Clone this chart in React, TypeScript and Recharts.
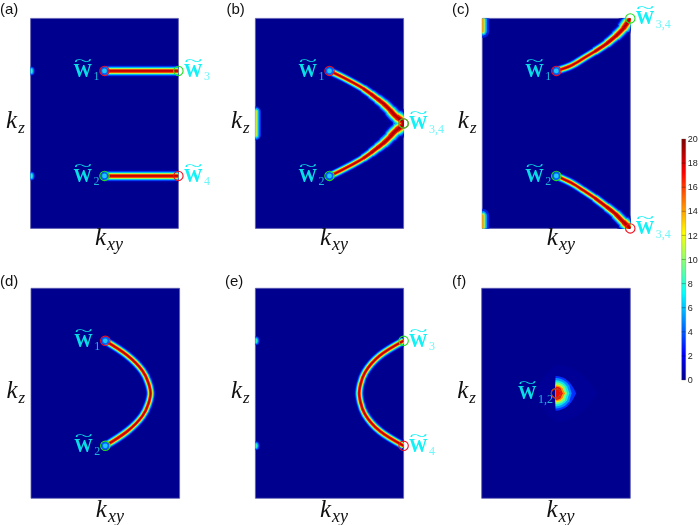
import React from "react";
import { ComposedChart, BarChart, Bar, Line, Area, XAxis, YAxis, ReferenceArea, ReferenceDot, ReferenceLine } from "recharts";

type P = { x: number; y: number };
const pts = (a: number[][]): P[] => a.map(([x, y]) => ({ x, y }));
// takes a curve's outer part away on both ends, keeping the centre
const mirror = (half: number[][], from: number) => {
  const h = half.slice(from);
  return [...h, ...h.slice(0, -1).reverse().map(([x, y]) => [x, -y])];
};

// ---- curves: [kxy 0..1, kz -1..1]
const A_UP = [[0.5, 0.5], [1, 0.5]];
const A_DOWN = [[0.5, -0.5], [1, -0.5]];
const B_HALF = [[0.5, 0.5], [0.565, 0.457], [0.63, 0.41], [0.68, 0.372], [0.728, 0.332], [0.78, 0.28], [0.823, 0.233], [0.863, 0.189], [0.91, 0.125], [0.953, 0.062], [1, 0]];
const C_UP = [[0.5, 0.5], [0.6, 0.55], [0.682, 0.618], [0.76, 0.685], [0.84, 0.76], [0.9, 0.83], [0.953, 0.905], [1, 1]];
const C_DOWN = [[0.5, -0.5], [0.6, -0.565], [0.682, -0.637], [0.76, -0.71], [0.84, -0.795], [0.9, -0.862], [0.953, -0.938], [1, -1]];
const D_CURVE = [[0.5, 0.5], [0.645, 0.365], [0.75, 0.215], [0.79, 0.1], [0.805, 0], [0.79, -0.1], [0.75, -0.215], [0.645, -0.365], [0.5, -0.5]];
const E_CURVE = [[1, 0.5], [0.84, 0.36], [0.74, 0.2], [0.71, 0.09], [0.7, 0], [0.71, -0.09], [0.74, -0.2], [0.84, -0.36], [1, -0.5]];
const EDGE_DOT_UP = [[0, 0.495], [0, 0.505]];
const EDGE_DOT_DOWN = [[0, -0.505], [0, -0.495]];
const B_EDGE = [[0, 0.11], [0, -0.11]];
const C_EDGE_UP = [[0, 1.02], [0, 0.88]];
const C_EDGE_DOWN = [[0, -0.88], [0, -1.02]];

// thickness of the glow along the curves: [first point index, width factor]
const B_SCALES = [[0, 0.85], [4, 0.95], [5, 1.05], [6, 1.15], [7, 1.25], [8, 1.4], [9, 1.6]];
const C_SCALES = [[0, 0.85], [3, 0.95], [4, 1.05], [5, 1.2], [6, 1.45]];

// ---- the central spot of panel (f): half heights per kxy
const BLOB_X = [0.38, 0.44, 0.497, 0.5, 0.515, 0.53, 0.545, 0.56, 0.575, 0.59, 0.605, 0.62, 0.635, 0.7, 0.78];
const BLOB_HALO = [0.08, 0.2, 0.27, 0.27, 0.27, 0.268, 0.265, 0.26, 0.255, 0.25, 0.24, 0.23, 0.22, 0.15, 0.0];
const BLOB_BLUE = [null, null, 0.165, 0.165, 0.163, 0.158, 0.15, 0.14, 0.125, 0.105, 0.08, 0.045, 0, null, null];
const BLOB_SKY = [null, null, 0.145, 0.145, 0.143, 0.138, 0.13, 0.118, 0.1, 0.075, 0, null, null, null, null];
const BLOB_CYAN = [null, null, 0.125, 0.125, 0.122, 0.115, 0.105, 0.09, 0.065, 0, null, null, null, null, null];
const BLOB_GREEN = [null, null, 0.105, 0.105, 0.102, 0.095, 0.085, 0.065, 0, null, null, null, null, null, null];
const BLOB_YELLOW = [null, null, 0.085, 0.085, 0.082, 0.075, 0.055, 0, null, null, null, null, null, null, null];
const BLOB_ORANGE = [null, null, 0.075, 0.075, 0.072, 0.065, 0.045, 0, null, null, null, null, null, null, null];
const BLOB_RED = [null, null, 0.063, 0.063, 0.06, 0.05, 0, null, null, null, null, null, null, null, null];
const BLOB_COLORS = ["#000096", "#0030ff", "#0090ff", "#10e8e8", "#70ff80", "#f8e810", "#ff9000", "#f01000"];
const blobLayers = [BLOB_HALO, BLOB_BLUE, BLOB_SKY, BLOB_CYAN, BLOB_GREEN, BLOB_YELLOW, BLOB_ORANGE, BLOB_RED];
const blobRows = BLOB_X.map((x, i) => {
  const r: any = { x };
  blobLayers.forEach((l, k) => { const h = l[i]; r["l" + k] = h == null ? null : [-h, h]; });
  return r;
});

// ---- colour bar
const CBAR_TICKS = [0, 2, 4, 6, 8, 10, 12, 14, 16, 18, 20];
const CBAR_DATA = [{ name: "I", range: [0, 20] }];
const JET_STOPS: [number, string][] = [[0, "#00008f"], [0.11, "#0000ff"], [0.36, "#00ffff"], [0.61, "#ffff00"], [0.86, "#ff0000"], [1, "#800000"]];

// ---- stacked stroke layers that imitate the jet glow
const LAYERS: [number, string][] = [[13, "#00009e"], [10.5, "#0014e0"], [9, "#0070ff"], [7.5, "#00d8f0"], [6, "#60ff90"], [5, "#e8f020"], [4, "#ff9000"], [3, "#f01000"], [1.3, "#b00000"]];
const EDGE_LAYERS: [number, string][] = [[11, "#0030f0"], [8, "#00a0ff"], [5.5, "#30f0c0"], [3.5, "#c0f040"]];
const DOT_LAYERS: [number, string][] = [[8, "#0030f0"], [6, "#00a0ff"], [4, "#30f0c0"]];
const C_EDGE_LAYERS: [number, string][] = [[14, "#0020e0"], [9.5, "#00a0ff"], [6.5, "#40f0b0"], [4.5, "#f0e020"], [2.6, "#ff9000"]];

type Seg = { data: number[][]; scale: number };
type Mark = { x: number; y: number; color: string };
type Lab = { x: number; y: number; sub: string; side: "l" | "r" };
type Panel = {
  letter: string; lx: number; ly: number; L: number; T: number; W: number; H: number;
  segs: Seg[]; edges: number[][][]; edgeLayers: [number, string][];
  ends: number[][]; marks: Mark[]; labels: Lab[]; blob?: boolean;
};
const RED = "#f01020";
const GREEN = "#20e020";

const PANELS: Panel[] = [
  { letter: "(a)", lx: 0, ly: 14, L: 30.6, T: 18.4, W: 147.8, H: 210,
    segs: [{ data: A_UP, scale: 1 }, { data: A_DOWN, scale: 1 }], edges: [EDGE_DOT_UP, EDGE_DOT_DOWN], edgeLayers: DOT_LAYERS,
    ends: [[0.5, 0.5], [0.5, -0.5]],
    marks: [{ x: 0.5, y: 0.5, color: RED }, { x: 1, y: 0.5, color: GREEN }, { x: 0.5, y: -0.5, color: GREEN }, { x: 1, y: -0.5, color: RED }],
    labels: [{ x: 0.5, y: 0.5, sub: "1", side: "l" }, { x: 0.5, y: -0.5, sub: "2", side: "l" }, { x: 1, y: 0.5, sub: "3", side: "r" }, { x: 1, y: -0.5, sub: "4", side: "r" }] },
  { letter: "(b)", lx: 226.5, ly: 14, L: 255.4, T: 18.4, W: 148.2, H: 210,
    segs: B_SCALES.map(([from, scale]) => ({ data: mirror(B_HALF, from), scale })), edges: [B_EDGE], edgeLayers: EDGE_LAYERS,
    ends: [[0.5, 0.5], [0.5, -0.5]],
    marks: [{ x: 0.5, y: 0.5, color: RED }, { x: 0.5, y: -0.5, color: GREEN }, { x: 1, y: 0, color: RED }, { x: 1, y: 0, color: GREEN }],
    labels: [{ x: 0.5, y: 0.5, sub: "1", side: "l" }, { x: 0.5, y: -0.5, sub: "2", side: "l" }, { x: 1, y: 0, sub: "3,4", side: "r" }] },
  { letter: "(c)", lx: 452, ly: 14, L: 482.3, T: 18.4, W: 148, H: 210,
    segs: C_SCALES.flatMap(([from, scale]) => [{ data: C_UP.slice(from), scale }, { data: C_DOWN.slice(from), scale }]), edges: [C_EDGE_UP, C_EDGE_DOWN], edgeLayers: C_EDGE_LAYERS,
    ends: [[0.5, 0.5], [0.5, -0.5]],
    marks: [{ x: 0.5, y: 0.5, color: RED }, { x: 0.5, y: -0.5, color: GREEN }, { x: 1, y: 1, color: GREEN }, { x: 1, y: -1, color: RED }],
    labels: [{ x: 0.5, y: 0.5, sub: "1", side: "l" }, { x: 0.5, y: -0.5, sub: "2", side: "l" }, { x: 1, y: 1, sub: "3,4", side: "r" }, { x: 1, y: -1, sub: "3,4", side: "r" }] },
  { letter: "(d)", lx: 0, ly: 285.5, L: 31, T: 288.3, W: 148.6, H: 210,
    segs: [{ data: D_CURVE, scale: 0.85 }], edges: [], edgeLayers: EDGE_LAYERS,
    ends: [[0.5, 0.5], [0.5, -0.5]],
    marks: [{ x: 0.5, y: 0.5, color: RED }, { x: 0.5, y: -0.5, color: GREEN }],
    labels: [{ x: 0.5, y: 0.5, sub: "1", side: "l" }, { x: 0.5, y: -0.5, sub: "2", side: "l" }] },
  { letter: "(e)", lx: 225, ly: 285.5, L: 255.4, T: 288.3, W: 148.2, H: 210,
    segs: [{ data: E_CURVE, scale: 0.85 }], edges: [EDGE_DOT_UP, EDGE_DOT_DOWN], edgeLayers: DOT_LAYERS,
    ends: [],
    marks: [{ x: 1, y: 0.5, color: GREEN }, { x: 1, y: -0.5, color: RED }],
    labels: [{ x: 1, y: 0.5, sub: "3", side: "r" }, { x: 1, y: -0.5, sub: "4", side: "r" }] },
  { letter: "(f)", lx: 452, ly: 285.5, L: 481.7, T: 288.3, W: 148.6, H: 210,
    segs: [], edges: [], edgeLayers: EDGE_LAYERS, ends: [], blob: true,
    marks: [{ x: 0.5, y: 0, color: GREEN }, { x: 0.5, y: 0, color: RED }],
    labels: [{ x: 0.5, y: 0, sub: "1,2", side: "l" }] },
];

const serif = "'Liberation Serif', serif";

function WLabel(props: any) {
  const { cx, cy, sub, side } = props;
  const right = side === "r";
  const x0 = right ? cx + 5.5 : cx - 31 - (sub.length > 1 ? 7 : 0);
  const base = cy + 6;
  const wCol = right ? "#12f2f6" : "#08dce4";
  const sCol = right ? "#6ff6fa" : "#1fb6dc";
  return (
    <g>
      <text x={x0} y={base} fontFamily={serif} fontWeight="bold" fontSize={18.5} fill={wCol}>W</text>
      <text x={x0 + 0.5} y={base - 11} fontFamily={serif} fontSize={15} fill={wCol} textLength={18} lengthAdjust="spacingAndGlyphs">~</text>
      <text x={x0 + 20} y={base + 3.5} fontFamily={serif} fontSize={12} fill={sCol}>{sub}</text>
    </g>
  );
}

function ChartPanel({ p }: { p: Panel }) {
  const left = Math.floor(p.L) - 32;
  const top = Math.floor(p.T) - 18;
  const width = 232;
  const height = Math.ceil(p.H) + 18 + 30;
  const margin = { left: p.L - left, top: p.T - top, right: width - (p.L - left) - p.W, bottom: height - (p.T - top) - p.H };
  const line = (key: string, data: number[][], w: number, c: string, cap: "butt" | "round" = "butt") => (
    <Line key={key} data={pts(data)} dataKey="y" type="natural" stroke={c} strokeWidth={w} strokeLinecap={cap} strokeLinejoin="round"
      dot={false} activeDot={false} legendType="none" isAnimationActive={false} />
  );
  return (
    <div style={{ position: "absolute", left, top, width, height }}>
      <ComposedChart width={width} height={height} margin={margin} data={p.blob ? blobRows : undefined}>
        <XAxis dataKey="x" type="number" domain={[0, 1]} allowDataOverflow hide />
        <YAxis type="number" domain={[-1, 1]} allowDataOverflow hide />
        <ReferenceArea x1={0} x2={1} y1={-1} y2={1} fill="#00008f" fillOpacity={1} stroke="#5c5cae" strokeWidth={0.8} />
        {p.blob && blobLayers.map((_, k) => (
          <Area key={"b" + k} dataKey={"l" + k} type="linear" stroke="none" fill={BLOB_COLORS[k]} fillOpacity={1}
            dot={false} activeDot={false} legendType="none" isAnimationActive={false} />
        ))}
        {p.edges.flatMap((e, i) => p.edgeLayers.map(([w, c], k) => line(`e${i}-${k}`, e, w, c, "round")))}
        {LAYERS.flatMap(([w, c], k) => p.segs.map((s, i) => line(`s${i}-${k}`, s.data, w * s.scale, c)))}
        {p.ends.flatMap(([x, y], i) => [
          <ReferenceDot key={`d${i}a`} x={x} y={y} r={4} fill="#0060ff" stroke="none" ifOverflow="visible" />,
          <ReferenceDot key={`d${i}b`} x={x} y={y} r={2.4} fill="#20c8f8" stroke="none" ifOverflow="visible" />,
        ])}
        {p.marks.map((m, i) => (
          <ReferenceDot key={`m${i}`} x={m.x} y={m.y} r={4.7} fill="none" stroke={m.color} strokeWidth={1.1} ifOverflow="visible" />
        ))}
        {p.labels.map((l, i) => (
          <ReferenceDot key={`l${i}`} x={l.x} y={l.y} r={0} ifOverflow="visible"
            shape={(s: any) => <WLabel cx={s.cx} cy={s.cy} sub={l.sub} side={l.side} />} />
        ))}
        <ReferenceDot x={0.5} y={-1} r={0} ifOverflow="visible" shape={(s: any) => (
          <text x={s.cx - 9.5} y={s.cy + (p.T > 100 ? 18.5 : 17)} fontFamily={serif} fontStyle="italic" fill="#111">
            <tspan fontSize={25}>k</tspan>
            <tspan fontSize={18} dy={5} dx={1}>xy</tspan>
          </text>
        )} />
        <ReferenceDot x={0} y={0} r={0} ifOverflow="visible" shape={(s: any) => (
          <text x={s.cx - 24.5} y={s.cy + 5} fontFamily={serif} fontStyle="italic" fill="#111">
            <tspan fontSize={25}>k</tspan>
            <tspan fontSize={17} dy={5} dx={1}>z</tspan>
          </text>
        )} />
      </ComposedChart>
    </div>
  );
}

function ColorBar() {
  const left = 676, top = 132, width = 24, height = 256;
  const barL = 5.7, barW = 4;
  return (
    <div style={{ position: "absolute", left, top, width, height }}>
      <BarChart width={width} height={height} data={CBAR_DATA} margin={{ left: barL, top: 7, right: 0, bottom: 8 }} barCategoryGap={0}>
        <defs>
          <linearGradient id="jet" x1="0" y1="1" x2="0" y2="0">
            {JET_STOPS.map(([o, c]) => <stop key={o} offset={o} stopColor={c} />)}
          </linearGradient>
        </defs>
        <XAxis dataKey="name" hide />
        <YAxis orientation="right" type="number" domain={[0, 20]} ticks={CBAR_TICKS} interval={0} width={width - barL - barW}
          axisLine={false} tickLine={false} tickSize={0} tickMargin={2} tick={{ fontSize: 9, fontFamily: "'Liberation Sans', sans-serif", fill: "#222" }} />
        <Bar dataKey="range" fill="url(#jet)" stroke="#555" strokeWidth={0.3} isAnimationActive={false} />
        {CBAR_TICKS.slice(1, -1).map((t) => (
          <ReferenceLine key={t} y={t} stroke="#000" strokeOpacity={0.4} strokeWidth={0.7} />
        ))}
      </BarChart>
    </div>
  );
}

export default function App() {
  return (
    <div style={{ position: "absolute", left: 0, top: 0, width: 700, height: 525, overflow: "hidden", background: "#fff", filter: "blur(0.45px)" }}>
      {PANELS.map((p) => <ChartPanel key={p.letter} p={p} />)}
      {PANELS.map((p) => (
        <div key={p.letter + "t"} style={{ position: "absolute", left: p.lx, top: p.ly - 13, fontFamily: "'Liberation Sans', sans-serif", fontSize: 15, lineHeight: "16px", color: "#111" }}>{p.letter}</div>
      ))}
      <ColorBar />
    </div>
  );
}
